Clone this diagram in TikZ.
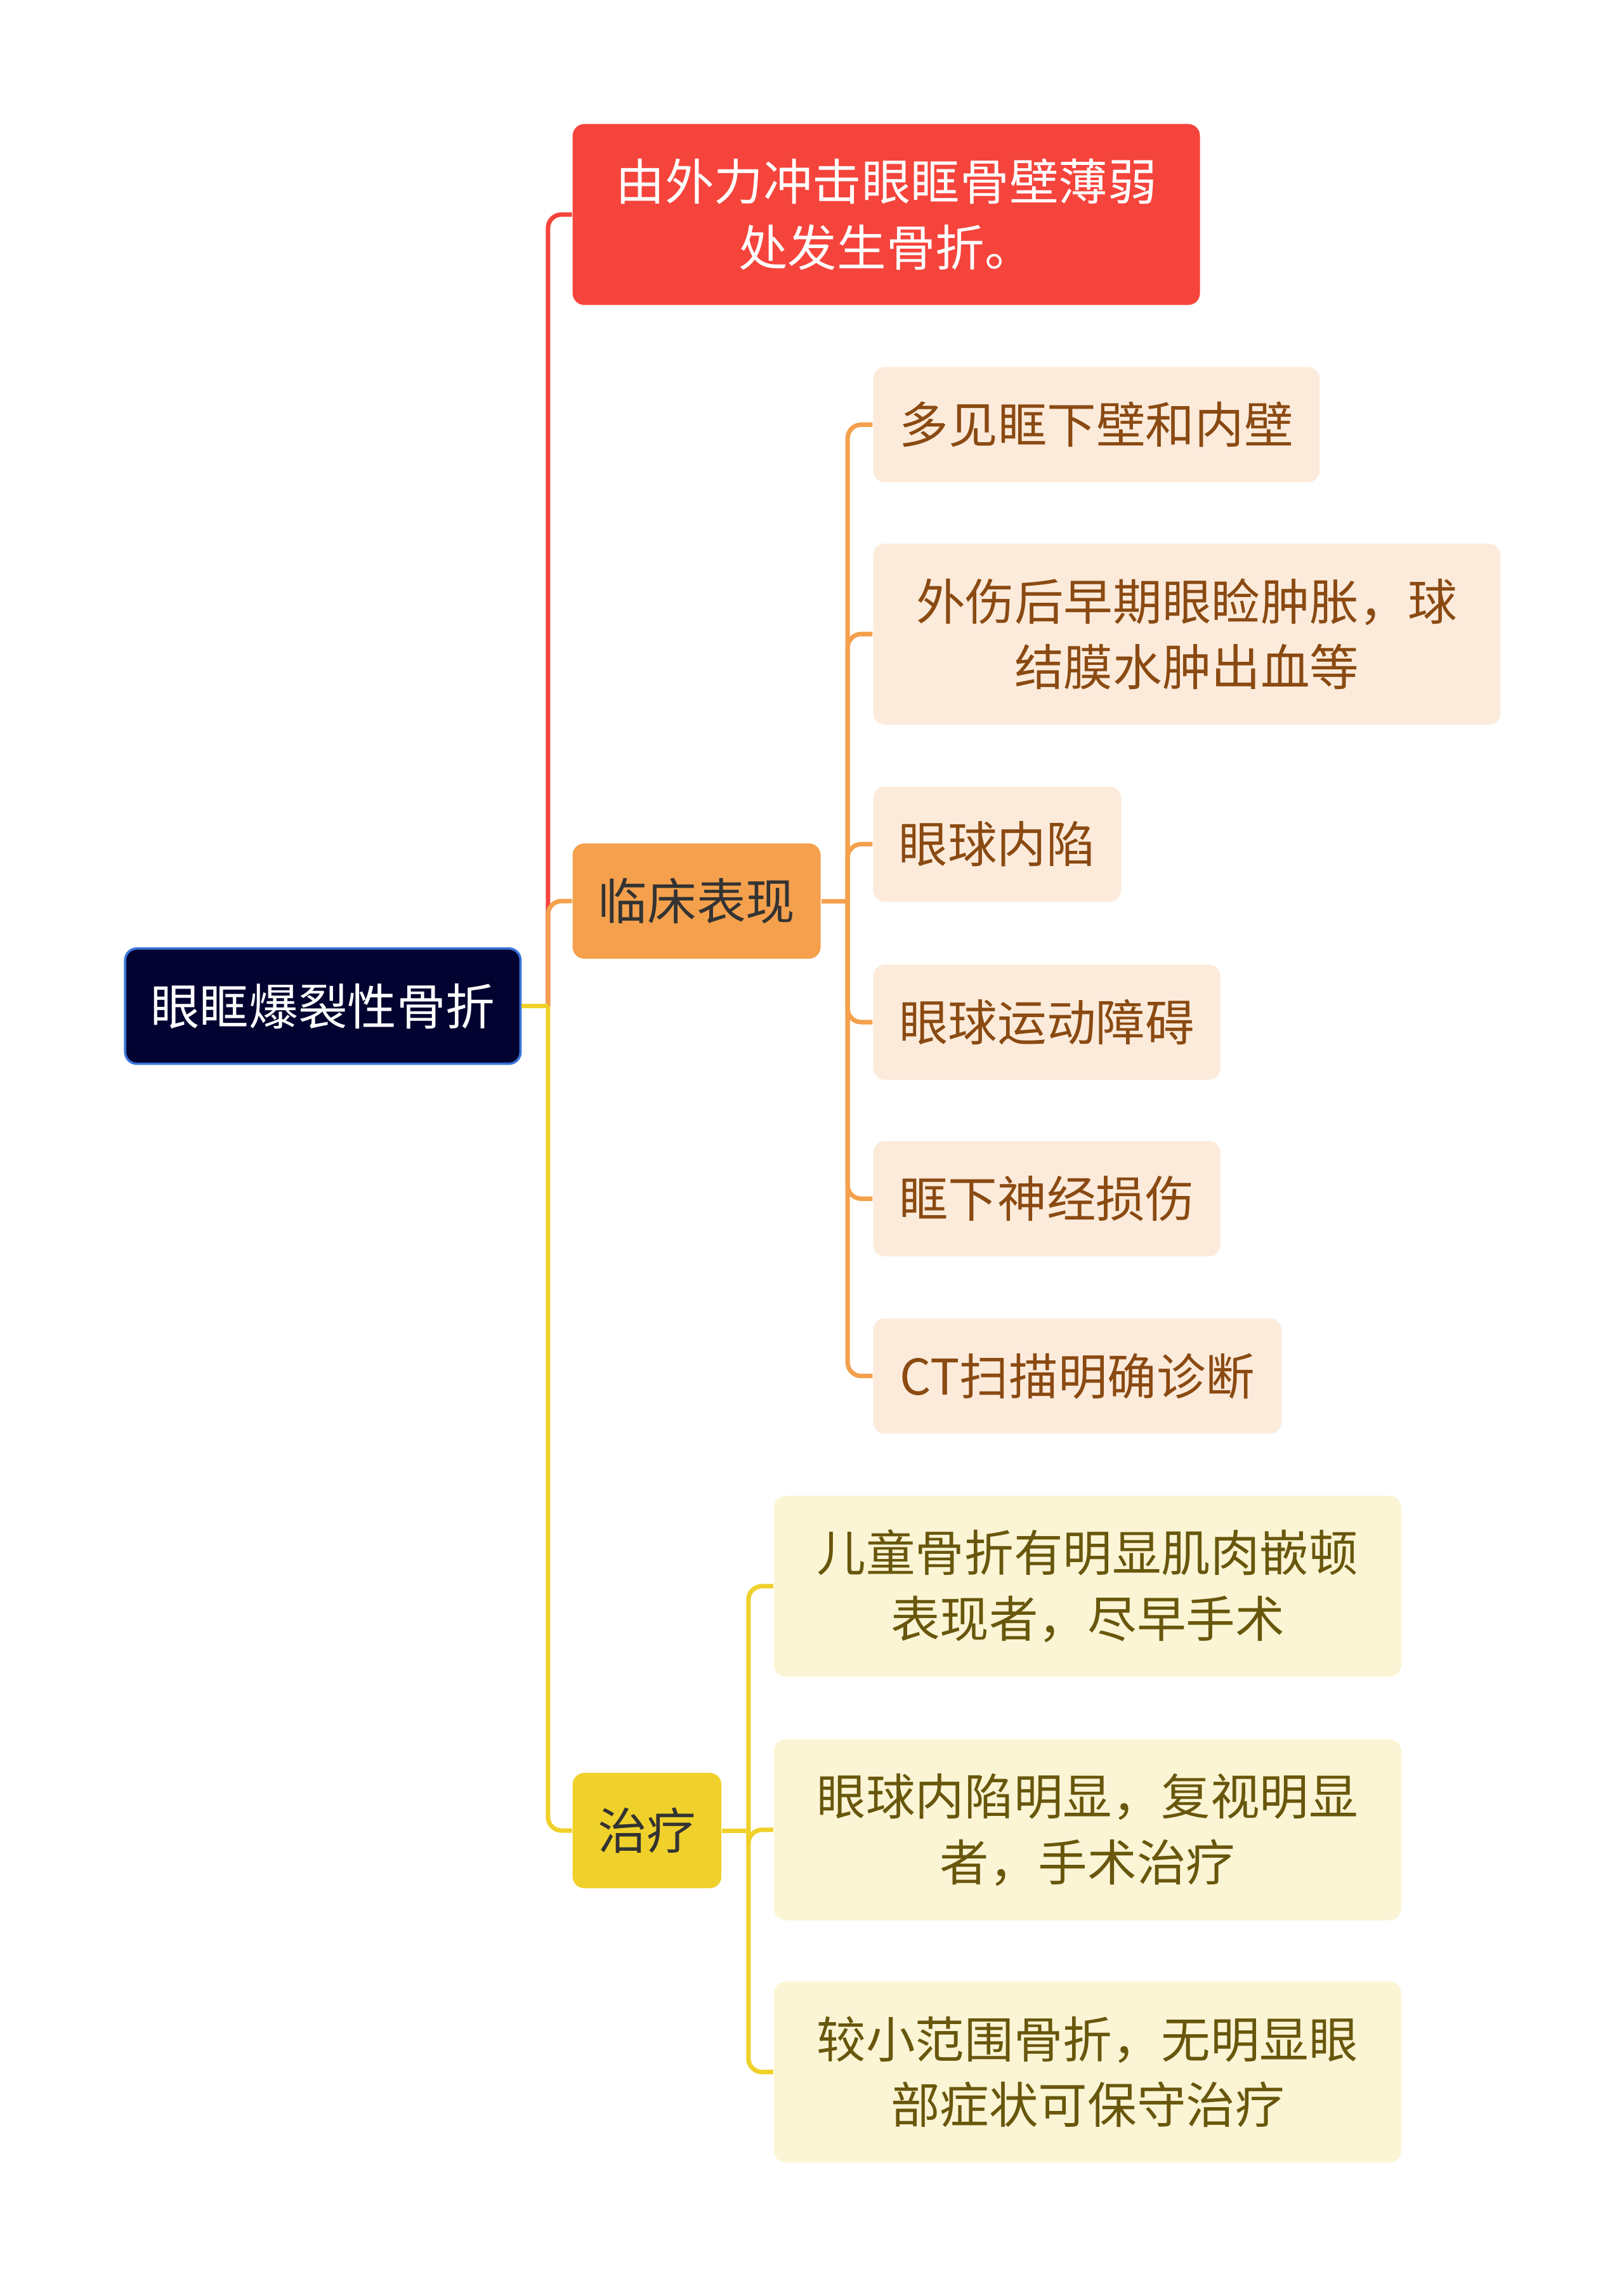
\documentclass[tikz,border=0pt]{standalone}
\usepackage{fontspec}
\setmainfont{Noto Sans CJK SC}
\usetikzlibrary{positioning}

\definecolor{rootfill}{HTML}{020330}
\definecolor{rootedge}{HTML}{3B73D9}
\definecolor{redbr}{HTML}{F5443C}
\definecolor{orgbr}{HTML}{F4A04C}
\definecolor{ylwbr}{HTML}{F0D02A}
\definecolor{orgleaf}{HTML}{FCEBDB}
\definecolor{ylwleaf}{HTML}{FBF5D5}
\definecolor{orgtext}{HTML}{8A4A12}
\definecolor{ylwtext}{HTML}{68570C}
\definecolor{brtext}{HTML}{333333}

\tikzset{every picture/.style={line width=0.75pt}}
\tikzset{
  box/.style={rounded corners=6pt, anchor=west, inner sep=0pt, align=center,
    font=\fontsize{25.3pt}{33.75pt}\selectfont},
  onerow/.style={minimum height=59.25pt},
  tworow/.style={minimum height=93pt},
  rootbox/.style={box, onerow, fill=rootfill, draw=rootedge, line width=1.2pt, text=white},
  redbox/.style={box, tworow, fill=redbr, text=white},
  orgbox/.style={box, onerow, fill=orgbr, text=brtext},
  ylwbox/.style={box, onerow, fill=ylwbr, text=brtext},
  orgleafbox/.style={box, fill=orgleaf, text=orgtext},
  ylwleafbox/.style={box, tworow, fill=ylwleaf, text=ylwtext, minimum width=322.5pt},
  link/.style={line width=2.3pt, rounded corners=7pt},
}

\begin{document}
\begin{tikzpicture}[x=0.75pt,y=0.75pt,yscale=-1,xscale=1]
\useasboundingbox (0,0) rectangle (1113,1568);

% main topic and branches
\node[rootbox, minimum width=203.25pt] (root) at (85,689.5) {眼眶爆裂性骨折};
\node[redbox, minimum width=322.5pt] (cause) at (392,147) {由外力冲击眼眶骨壁薄弱\\处发生骨折。};
\node[orgbox, minimum width=127.5pt] (clin) at (392,617.5) {临床表现};
\node[ylwbox, minimum width=76.5pt] (treat) at (392,1254.5) {治疗};

% clinical signs
\node[orgleafbox, onerow, minimum width=229.5pt] (sign1) at (598,291) {多见眶下壁和内壁};
\node[orgleafbox, tworow, minimum width=322.5pt] (sign2) at (598,434.5) {外伤后早期眼睑肿胀，球\\结膜水肿出血等};
\node[orgleafbox, onerow, minimum width=127.5pt] (sign3) at (598,578.5) {眼球内陷};
\node[orgleafbox, onerow, minimum width=178.5pt] (sign4) at (598,700.5) {眼球运动障碍};
\node[orgleafbox, onerow, minimum width=178.5pt] (sign5) at (598,821.5) {眶下神经损伤};
\node[orgleafbox, onerow, minimum width=210pt] (sign6) at (598,943) {CT扫描明确诊断};

% treatment
\node[ylwleafbox] (cure1) at (530,1087) {儿童骨折有明显肌肉嵌顿\\表现者，尽早手术};
\node[ylwleafbox] (cure2) at (530,1254) {眼球内陷明显，复视明显\\者，手术治疗};
\node[ylwleafbox] (cure3) at (530,1420) {较小范围骨折，无明显眼\\部症状可保守治疗};

% links
\path (root.east) -- ++(18,0) coordinate (rootJ);
\path (clin.east) -- ++(18,0) coordinate (clinJ);
\path (treat.east) -- ++(18,0) coordinate (treatJ);

\draw[link, redbr] (rootJ) |- (cause.west);
\draw[link, orgbr] (rootJ) |- (clin.west);
\draw[link, ylwbr] (rootJ) |- (treat.west);
\draw[link, ylwbr] (root.east) -- (rootJ);

\draw[link, orgbr] (clin.east) -- (clinJ);
\foreach \s in {sign1,sign2,sign3,sign4,sign5,sign6}
  \draw[link, orgbr] (clinJ) |- (\s.west);

\draw[link, ylwbr] (treat.east) -- (treatJ);
\foreach \c in {cure1,cure2,cure3}
  \draw[link, ylwbr] (treatJ) |- (\c.west);
\end{tikzpicture}
\end{document}
